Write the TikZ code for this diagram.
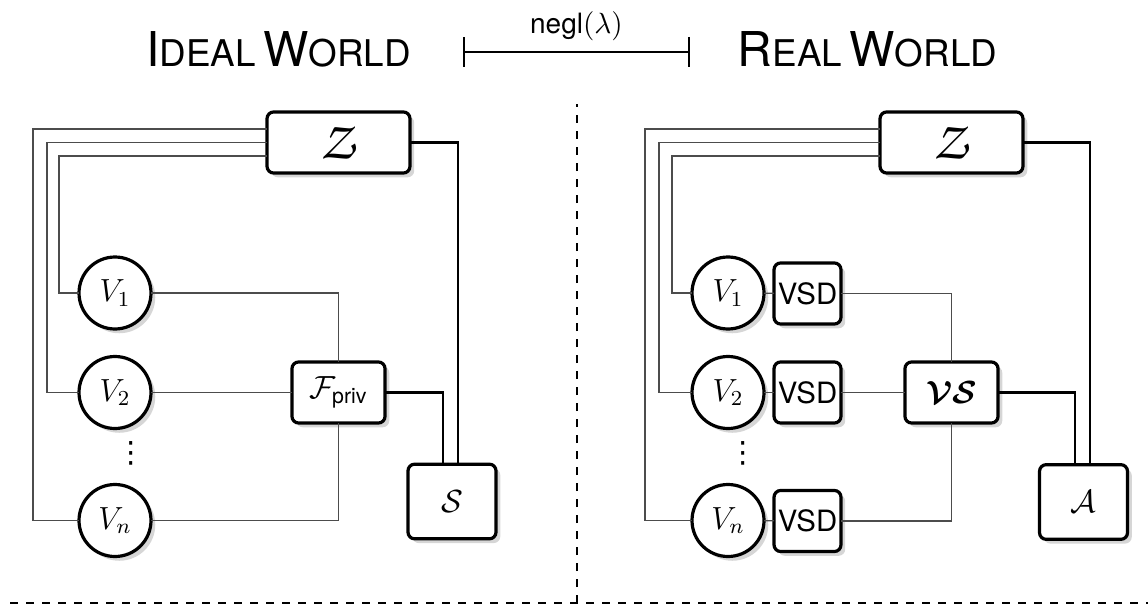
\documentclass[tikz,border=0pt]{standalone}
\usepackage{fontspec}
\setsansfont{TeX Gyre Heros}
\newfontfamily\symfont{DejaVu Sans}
\usepackage{amsmath}
\DeclareMathAlphabet{\mathpzc}{OT1}{pzc}{m}{it}
\usetikzlibrary{shadows,arrows.meta,calc}

% fake small caps for the world titles
\newcommand\capbig[1]{{\fontsize{18pt}{20pt}\selectfont #1}}
\newcommand\capsmall[1]{{\fontsize{13.8pt}{15pt}\selectfont #1}}

\begin{document}
\begin{tikzpicture}[x=0.375pt,y=-0.375pt,
  every node/.style={inner sep=0pt,outer sep=0pt},
  shade/.style={drop shadow={shadow xshift=1.6pt,shadow yshift=-1.6pt,fill=black!16,opacity=1}},
  box/.style={draw,line width=1.2pt,rounded corners=2.5pt,fill=white,shade,
    font=\fontsize{12pt}{14pt}\selectfont},
  envbox/.style={box,minimum width=53.6pt,minimum height=22.9pt,
    font=\fontsize{20pt}{22pt}\selectfont},
  funcbox/.style={box,minimum width=34.9pt,minimum height=22.9pt},
  advbox/.style={box,minimum width=33pt,minimum height=28pt},
  vsdbox/.style={box,minimum width=25.1pt,minimum height=22.9pt,
    font=\fontsize{11pt}{13pt}\selectfont\sffamily},
  party/.style={circle,draw,line width=1.2pt,fill=white,shade,minimum size=27pt,
    font=\fontsize{12pt}{14pt}\selectfont},
  vdotsnode/.style={font=\fontsize{11pt}{13pt}\symfont},
  wire/.style={draw=black!70,line width=0.5pt},
  link/.style={draw=black,line width=0.9pt},
  sep/.style={draw=black,line width=1.1pt,dashed},
  title/.style={anchor=base,font=\sffamily}
]
\useasboundingbox (0,0) rectangle (1148,606);

% ---------- headings ----------
\node[title] (tideal) at (278.5,67) {\capbig{I}\capsmall{DEAL} \capbig{W}\capsmall{ORLD}};
\node[title] (treal) at (867.5,67) {\capbig{R}\capsmall{EAL} \capbig{W}\capsmall{ORLD}};
\coordinate (barl) at (463,52);
\coordinate (barr) at (690,52);
\draw[line width=0.8pt,{Bar[width=11.25pt]}-{Bar[width=11.25pt]}] (barl) -- (barr);
\node (negl) at (576.5,26.5) {\fontsize{10.5pt}{12pt}\selectfont\sffamily negl$(\lambda)$};

% ---------- separators ----------
\coordinate (sepb) at (577,603);
\coordinate (sept) at (577,104);
\coordinate (sepl) at (10,603);
\coordinate (sepr) at (1160,603);
\draw[sep] (sepl) -- (sepr);
\draw[sep] (sepb) -- (sept);

% ---------- ideal world ----------
\node[envbox] (Zl) at (338.5,142.5) {$\mathpzc{Z}$};
\node[party] (V1l) at (115,293) {$V_1$};
\node[party] (V2l) at (115,392.5) {$V_2$};
\node[party] (Vnl) at (115,520.5) {$V_n$};
\node[vdotsnode] (dotsl) at (131,453) {⋮};
\node[funcbox] (Fl) at (338.5,392.5) {$\mathcal{F}_{\textsf{priv}}$};
\node[advbox] (Sl) at (452,501.5) {$\mathcal{S}$};

\draw[wire] ([yshift=5.06pt]Zl.west) -| (33,520.5) -- (Vnl);
\draw[wire] (Zl.west) -| (47,392.5) -- (V2l);
\draw[wire] ([yshift=-5.06pt]Zl.west) -| (59,293) -- (V1l);
\draw[wire] (V1l) -| (Fl);
\draw[wire] (V2l) -- (Fl);
\draw[wire] (Vnl) -| (Fl);
\draw[link] (Fl.east) -| ([xshift=-3.4pt]Sl.north);
\draw[link] (Zl.east) -| ([xshift=2.3pt]Sl.north);

% ---------- real world ----------
\node[envbox] (Zr) at (951.5,142.5) {$\mathpzc{Z}$};
\node[party] (V1r) at (728,293) {$V_1$};
\node[party] (V2r) at (728,392.5) {$V_2$};
\node[party] (Vnr) at (728,520.5) {$V_n$};
\node[vdotsnode] (dotsr) at (743,453) {⋮};
\node[vsdbox] (D1) at (807.5,293.5) {VSD};
\node[vsdbox] (D2) at (807.5,392.5) {VSD};
\node[vsdbox] (Dn) at (807.5,521) {VSD};
\node[funcbox] (VS) at (951.5,392.5) {$\boldsymbol{\mathcal{V}\mathcal{S}}$};
\node[advbox] (Ar) at (1083.5,502) {$\mathcal{A}$};

\draw[wire] ([yshift=5.06pt]Zr.west) -| (645,520.5) -- (Vnr);
\draw[wire] (Zr.west) -| (659,392.5) -- (V2r);
\draw[wire] ([yshift=-5.06pt]Zr.west) -| (672,293) -- (V1r);
\draw[wire] (V1r) -- (D1);
\draw[wire] (V2r) -- (D2);
\draw[wire] (Vnr) -- (Dn);
\draw[wire] (D1) -| (VS);
\draw[wire] (D2) -- (VS);
\draw[wire] (Dn) -| (VS);
\draw[link] (VS.east) -| ([xshift=-3.2pt]Ar.north);
\draw[link] (Zr.east) -| ([xshift=2.4pt]Ar.north);
\end{tikzpicture}
\end{document}
